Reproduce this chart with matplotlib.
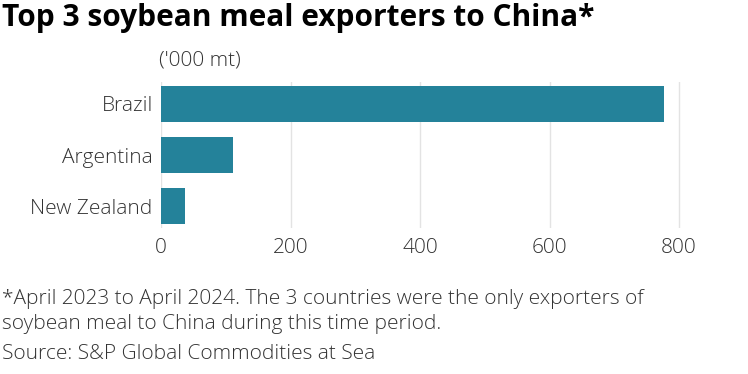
import matplotlib
matplotlib.use("Agg")
import matplotlib.pyplot as plt

countries = ["Brazil", "Argentina", "New Zealand"]
values = [777, 111, 37]
xticks = [0, 200, 400, 600, 800]

plt.rcParams['font.family'] = ['Open Sans', 'DejaVu Sans']

W, H = 748, 374
fig = plt.figure(figsize=(W/100, H/100), dpi=100)
ax = fig.add_axes([161/W, 1-228/H, (679-161)/W*820/800, (228-82)/H])

TXT = "#333333"
FS = 15
WT = 'light'
ypos = list(range(len(countries)))
ax.barh(ypos, values, height=0.7, color="#24829A", zorder=3)
ax.set_ylim(len(countries)-1+0.43, -0.43)
ax.set_xlim(0, 820)
ax.set_xticks(xticks)
ax.set_xticklabels([str(t) for t in xticks], fontsize=FS, color=TXT, fontweight=WT)
ax.set_yticks(ypos)
ax.set_yticklabels(countries, fontsize=FS, color=TXT, fontweight=WT)
ax.tick_params(axis='both', length=0)
ax.tick_params(axis='x', pad=7)
ax.tick_params(axis='y', pad=6)
for s in ax.spines.values():
    s.set_visible(False)
ax.grid(axis='x', color="#e3e3e3", linewidth=1, zorder=0)
ax.set_axisbelow(True)

fig.text(2/W, 1-18/H, "Top 3 soybean meal exporters to China*", fontsize=21.5, fontweight='bold',
         color="#000000", va='center', ha='left')
fig.text(159/W, 1-61/H, "('000 mt)", fontsize=FS, color=TXT, va='center', ha='left', fontweight=WT)
fig.text(2/W, 1-299/H, "*April 2023 to April 2024. The 3 countries were the only exporters of",
         fontsize=FS, color=TXT, va='center', ha='left', fontweight=WT)
fig.text(2/W, 1-324/H, "soybean meal to China during this time period.",
         fontsize=FS, color=TXT, va='center', ha='left', fontweight=WT)
fig.text(2/W, 1-354/H, "Source: S&P Global Commodities at Sea",
         fontsize=FS, color=TXT, va='center', ha='left', fontweight=WT)

fig.savefig("out.png", dpi=100, facecolor="white")
